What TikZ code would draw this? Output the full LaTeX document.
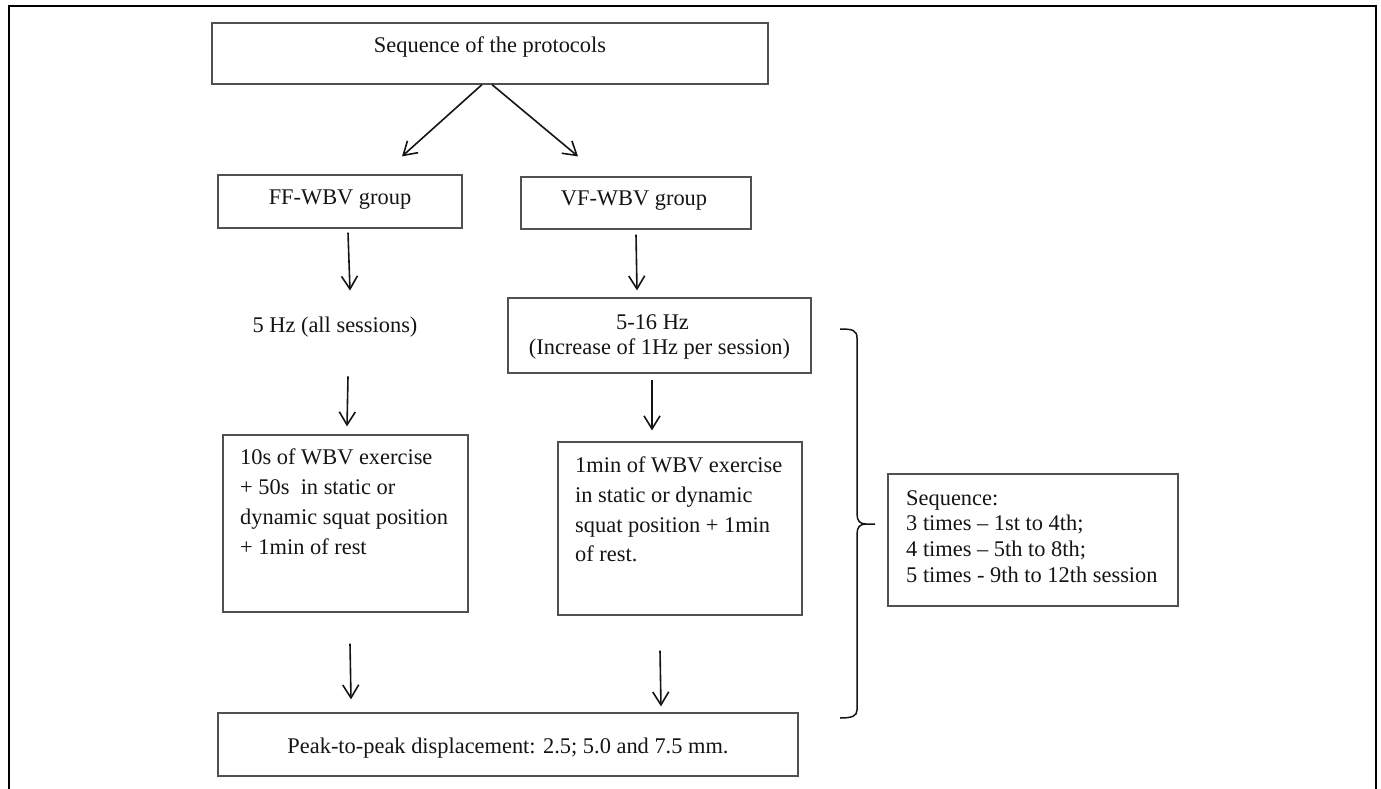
\documentclass[tikz,border=0pt]{standalone}
\usepackage{fontspec}
\setmainfont{Liberation Serif}
\usetikzlibrary{arrows.meta}
\definecolor{boxgray}{RGB}{80,80,80}
\definecolor{inkc}{RGB}{20,20,20}
\begin{document}
\begin{tikzpicture}[x=1pt,y=-1pt,
  box/.style={draw=boxgray, line width=1.2pt, rectangle, inner sep=0pt},
  txt/.style={inner sep=0pt, text=inkc, font=\fontsize{22.4}{29}\selectfont},
  arr/.style={draw=inkc, line width=1.6pt, -{Straight Barb[length=13pt,width=16pt]}}]
\useasboundingbox (0,0) rectangle (1381,789);
\begin{scope}
\clip (0,0) rectangle (1381,789);
\draw[line width=2pt, draw=black] (9,800) -- (9,6) -- (1376,6) -- (1376,800);
\end{scope}

% boxes
\node[box, minimum width=556pt, minimum height=61pt] (top) at (490,53.5) {};
\node[box, minimum width=244pt, minimum height=53pt] (ff) at (340,201.5) {};
\node[box, minimum width=230pt, minimum height=52pt] (vf) at (636,203) {};
\node[box, minimum width=303pt, minimum height=75pt] (hz16) at (659.5,335.5) {};
\node[box, minimum width=245pt, minimum height=177pt] (b10) at (345.5,523.5) {};
\node[box, minimum width=244pt, minimum height=173pt] (b1min) at (680,528.5) {};
\node[box, minimum width=580pt, minimum height=63pt] (peak) at (508,744.5) {};
\node[box, minimum width=290pt, minimum height=132pt] (seq) at (1033,540) {};

% texts
\node[txt] (ttop) at (490,47) {Sequence of the protocols};
\node[txt] (tff) at (340,200) {FF-WBV group};
\node[txt] (tvf) at (634,201) {VF-WBV group};
\node[txt] (t5hz) at (335,327) {5 Hz (all sessions)};
\node[txt, align=center, font=\fontsize{22.4}{25}\selectfont] (thz16) at (659.5,337) {5-16 Hz\hspace*{14pt}\\(Increase of 1Hz per session)};
\node[txt, align=left, anchor=west, font=\fontsize{22.4}{30}\selectfont] (t10) at (240,502)
  {10s of WBV exercise\\+ 50s\ \ in static or\\dynamic squat position\\+ 1min of rest};
\node[txt, align=left, anchor=west, font=\fontsize{22.4}{29.6}\selectfont] (t1min) at (575,509.5)
  {1min of WBV exercise\\in static or dynamic\\squat position + 1min\\of rest.};
\node[txt, align=left, anchor=west, font=\fontsize{22.4}{25.7}\selectfont] (tseq) at (906,536.5)
  {Sequence:\\3 times -- 1st to 4th;\\4 times -- 5th to 8th;\\5 times - 9th to 12th session};
\node[txt] (tpeak) at (508,748) {Peak-to-peak displacement: 2.5; 5.0 and 7.5 mm.};

% arrows
\draw[arr] ([xshift=-8pt]top.south) -- ([xshift=62pt,yshift=18pt]ff.north);
\draw[arr] ([xshift=2pt]top.south) -- ([xshift=-58pt,yshift=20pt]vf.north);
\draw[arr] ([xshift=8pt,yshift=-4pt]ff.south) -- ([xshift=10pt,yshift=-62pt]ff.south);
\draw[arr] ([yshift=-5pt]vf.south) -- ([xshift=-22.5pt,yshift=7pt]hz16.north);
\draw[arr] ([xshift=2.5pt,yshift=58pt]b10.north) -- ([xshift=1.5pt,yshift=8pt]b10.north);
\draw[arr] ([xshift=-7.5pt,yshift=-6pt]hz16.south) -- ([xshift=-28pt,yshift=11pt]b1min.north);
\draw[arr] ([xshift=4.5pt,yshift=-31pt]b10.south) -- ([xshift=-157pt,yshift=13pt]peak.north);
\draw[arr] ([xshift=-20pt,yshift=-35pt]b1min.south) -- ([xshift=153pt,yshift=6pt]peak.north);

% brace
\draw[draw=inkc, line width=1.5pt]
  (840,329) .. controls (852,329) and (857,330) .. (857,338)
  -- (857,514) .. controls (857,521) and (860,524) .. (866,524) -- (875,524)
  (866,524) .. controls (860,524) and (857,527) .. (857,534)
  -- (857,710) .. controls (857,716) and (852,718) .. (840,718);
\end{tikzpicture}
\end{document}
